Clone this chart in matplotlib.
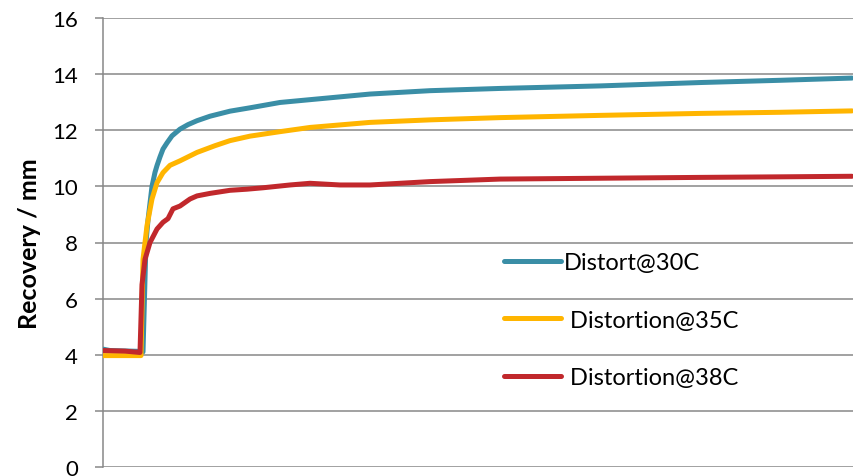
import matplotlib.pyplot as plt

# x positions in arbitrary time units (0 .. 750)
x_30 = [0, 7, 37, 40, 43, 45, 47, 49, 52, 54, 57, 60, 64, 69, 77, 85, 94, 107, 127, 147, 177, 207, 267, 327, 397, 497, 597, 677, 749]
y_30 = [4.2, 4.15, 4.12, 4.1, 8.0, 8.8, 9.4, 10.0, 10.5, 10.74, 11.05, 11.33, 11.55, 11.8, 12.04, 12.2, 12.34, 12.5, 12.68, 12.8, 12.99, 13.09, 13.29, 13.41, 13.49, 13.58, 13.7, 13.78, 13.86]

x_35 = [0, 38, 40, 44, 49, 54, 60, 67, 77, 94, 112, 127, 147, 177, 207, 267, 327, 397, 497, 597, 677, 749]
y_35 = [3.97, 3.97, 7.4, 8.6, 9.55, 10.13, 10.49, 10.75, 10.91, 11.21, 11.45, 11.63, 11.79, 11.95, 12.1, 12.28, 12.37, 12.45, 12.53, 12.6, 12.64, 12.69]

x_38 = [0, 22, 37, 39, 42, 47, 54, 60, 65, 70, 77, 87, 94, 107, 127, 144, 160, 187, 207, 237, 267, 297, 327, 397, 497, 597, 677, 749]
y_38 = [4.15, 4.13, 4.08, 6.5, 7.4, 8.0, 8.48, 8.72, 8.85, 9.2, 9.3, 9.55, 9.66, 9.75, 9.86, 9.9, 9.95, 10.05, 10.11, 10.05, 10.05, 10.11, 10.17, 10.26, 10.29, 10.32, 10.34, 10.36]

labels = ["Distort@30C", " Distortion@35C", " Distortion@38C"]
colors = ["#3A8EA6", "#FFB500", "#C1282C"]
yticks = [0, 2, 4, 6, 8, 10, 12, 14, 16]

plt.rcParams['font.family'] = ['Lato', 'DejaVu Sans']

fig = plt.figure(figsize=(8.55, 4.77), dpi=100)
ax = fig.add_axes([103 / 855, 1 - 468 / 477, 750 / 855, 449 / 477])

for xs, ys, lab, c in zip([x_30, x_35, x_38], [y_30, y_35, y_38], labels, colors):
    ax.plot(xs, ys, color=c, lw=3.6, label=lab, solid_capstyle='round', zorder=3)

ax.set_xlim(0, 750)
ax.set_ylim(0, 16)
ax.set_yticks(yticks)
ax.set_xticks([])
ax.yaxis.grid(True, color="#878787", lw=1.1)
ax.set_axisbelow(True)
for s in ["top", "right", "bottom"]:
    ax.spines[s].set_visible(False)
ax.spines["left"].set_color("#878787")
ax.spines["left"].set_linewidth(1.1)
ax.tick_params(axis="y", length=6, width=1.1, color="#878787", pad=12, labelsize=16)
ax.set_ylabel("Recovery / mm", fontsize=18, fontweight="bold", labelpad=8)

leg = ax.legend(loc="center left", bbox_to_anchor=(0.535, 0.327), frameon=False,
                fontsize=17, handlelength=2.4, handletextpad=0.12, labelspacing=1.55,
                borderaxespad=0, borderpad=0)

fig.savefig("out.png", dpi=100)
